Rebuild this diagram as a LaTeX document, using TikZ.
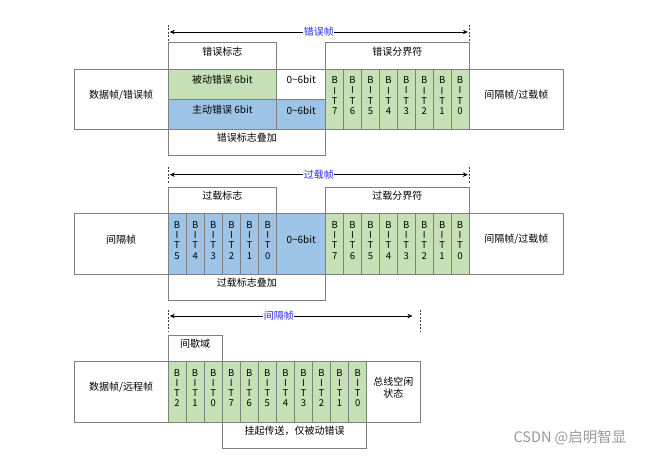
\documentclass[tikz,border=0pt]{standalone}
\usepackage{fontspec}
\setmainfont{Noto Sans CJK SC}
\usetikzlibrary{arrows.meta,fit}
\definecolor{gfill}{RGB}{197,224,180}
\definecolor{bfill}{RGB}{157,195,230}
\definecolor{edge}{RGB}{128,128,128}
\definecolor{lblue}{RGB}{40,40,255}
\tikzset{
 box/.style={draw=edge, line width=0.8pt, inner sep=0pt, outer sep=0pt, font=\fontsize{10}{12.5}\selectfont, align=center},
 bitbox/.style={box, font=\fontsize{9.5}{10.2}\selectfont},
 tickline/.style={draw=black!75, line width=0.6pt, dash pattern=on 2pt off 1.5pt},
 span/.style={line width=0.6pt, shorten <=1.5pt, shorten >=1.5pt, {Stealth[length=5pt,width=4.5pt]}-{Stealth[length=5pt,width=4.5pt]}},
 spanlab/.style={fill=white, text=lblue, inner sep=0.5pt, font=\fontsize{10}{12}\selectfont},
}
\newcommand\cell[7]{\node[box, fill=#6, fit={(#2,#3)(#4,#5)}] (#1) {#7};}
\newcommand\bitcell[7]{\node[bitbox, fill=#6, fit={(#2,#3)(#4,#5)}] (#1) {B\\I\\T\\#7};}
\begin{document}
\begin{tikzpicture}[x=1pt,y=-1pt]
\useasboundingbox (0,0) rectangle (654,457);
% ---------- section 1 ----------
\coordinate (t1la) at (168.3,25); \coordinate (t1lb) at (168.3,42);
\coordinate (t1ra) at (469.3,25); \coordinate (t1rb) at (469.3,42);
\draw[tickline] (t1la) -- (t1lb); \draw[tickline] (t1ra) -- (t1rb);
\coordinate (a1l) at (168.3,32); \coordinate (a1r) at (469.3,32);
\draw[span] (a1l) -- (a1r) node[midway, spanlab] {错误帧};
\cell{s1flag}{168}{42}{276.7}{69}{white}{错误标志}
\cell{s1del}{325.7}{42}{469}{69}{white}{错误分界符}
\cell{s1left}{74.3}{69}{168}{129.3}{white}{数据帧/错误帧}
\cell{s1pas}{168}{69}{276.7}{99}{gfill}{被动错误 6bit}
\cell{s1pasx}{276.7}{69}{325.7}{99}{white}{0\textasciitilde 6bit}
\cell{s1act}{168}{99}{276.7}{129.3}{bfill}{主动错误 6bit}
\cell{s1actx}{276.7}{99}{325.7}{129.3}{bfill}{0\textasciitilde 6bit}
\foreach \i in {0,...,7}{
  \pgfmathsetmacro\xa{325.7+\i*17.9125}\pgfmathsetmacro\xb{325.7+(\i+1)*17.9125}\pgfmathtruncatemacro\d{7-\i}
  \bitcell{s1b\i}{\xa}{69}{\xb}{129.3}{gfill}{\d}
}
\cell{s1right}{469}{69}{563.7}{129.3}{white}{间隔帧/过载帧}
\cell{s1sup}{168}{129.3}{325.7}{155}{white}{错误标志叠加}
% ---------- section 2 ----------
\coordinate (t2la) at (168.3,167); \coordinate (t2lb) at (168.3,183);
\coordinate (t2ra) at (469.3,167); \coordinate (t2rb) at (469.3,183);
\draw[tickline] (t2la) -- (t2lb); \draw[tickline] (t2ra) -- (t2rb);
\coordinate (a2l) at (168.3,174.7); \coordinate (a2r) at (469.3,174.7);
\draw[span] (a2l) -- (a2r) node[midway, spanlab] {过载帧};
\cell{s2flag}{168}{187.3}{276.7}{213.3}{white}{过载标志}
\cell{s2del}{325.7}{187.3}{469}{213.3}{white}{过载分界符}
\cell{s2left}{74.3}{213.3}{168}{274.3}{white}{间隔帧}
\foreach \i in {0,...,5}{
  \pgfmathsetmacro\xa{168+\i*18.1167}\pgfmathsetmacro\xb{168+(\i+1)*18.1167}\pgfmathtruncatemacro\d{5-\i}
  \bitcell{s2a\i}{\xa}{213.3}{\xb}{274.3}{bfill}{\d}
}
\cell{s2x}{276.7}{213.3}{325.7}{274.3}{bfill}{0\textasciitilde 6bit}
\foreach \i in {0,...,7}{
  \pgfmathsetmacro\xa{325.7+\i*17.9125}\pgfmathsetmacro\xb{325.7+(\i+1)*17.9125}\pgfmathtruncatemacro\d{7-\i}
  \bitcell{s2b\i}{\xa}{213.3}{\xb}{274.3}{gfill}{\d}
}
\cell{s2right}{469}{213.3}{563.7}{274.3}{white}{间隔帧/过载帧}
\cell{s2sup}{168}{274.3}{325.7}{300}{white}{过载标志叠加}
% ---------- section 3 ----------
\coordinate (t3la) at (168.3,310); \coordinate (t3lb) at (168.3,332);
\coordinate (t3ra) at (420,310); \coordinate (t3rb) at (420,332);
\draw[tickline] (t3la) -- (t3lb); \draw[tickline] (t3ra) -- (t3rb);
\coordinate (a3l) at (168.3,316); \coordinate (a3r) at (414,316);
\draw[span] (a3l) -- (a3r) node[pos=0.45, spanlab] {间隔帧};
\cell{s3int}{168}{335.3}{222.3}{361.3}{white}{间歇域}
\cell{s3left}{74.3}{361.3}{168}{422}{white}{数据帧/远程帧}
\foreach \d [count=\j from 0] in {2,1,0,7,6,5,4,3,2,1,0}{
  \pgfmathsetmacro\xa{168+\j*18.0636}\pgfmathsetmacro\xb{168+(\j+1)*18.0636}
  \bitcell{s3b\j}{\xa}{361.3}{\xb}{422}{gfill}{\d}
}
\cell{s3right}{366.7}{361.3}{420}{422}{white}{总线空闲\\状态}
\cell{s3sus}{222.3}{422}{366.7}{448.3}{white}{挂起传送，仅被动错误}
% watermark
\node[text=black!40, font=\fontsize{14.5}{16}\selectfont, inner sep=0pt] (wm) at (570,438) {CSDN @启明智显};
\end{tikzpicture}
\end{document}
